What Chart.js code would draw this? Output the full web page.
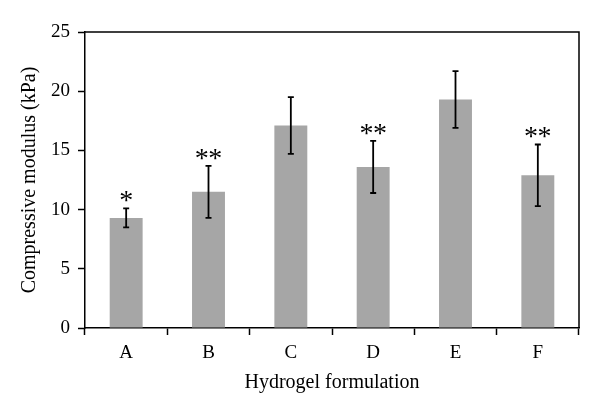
<!DOCTYPE html>
<html>
<head>
<meta charset="utf-8">
<script src="https://cdn.jsdelivr.net/npm/chart.js@4"></script>
<style>
  html, body { margin: 0; padding: 0; background: #fff; }
  #wrap { width: 600px; height: 413px; }
</style>
</head>
<body>
<div id="wrap"><canvas id="modulus"></canvas></div>
<script>
// Values.
const formulations = ["A", "B", "C", "D", "E", "F"];
const modulus = [9.3, 11.5, 17.1, 13.6, 19.3, 12.9];
const modulusSd = [0.8, 2.2, 2.4, 2.2, 2.4, 2.6];
const significance = ["*", "**", "", "**", "", "**"];
const yTicks = [0, 5, 10, 15, 20, 25];

const serif = "'Liberation Serif', 'DejaVu Serif', serif";

// Draws the top/right frame, the error bars and the asterisks.
const errorBars = {
    id: "errorBars",
    afterDatasetsDraw(chart) {
        const {ctx, chartArea} = chart;
        const yScale = chart.scales.y;
        const meta = chart.getDatasetMeta(0);
        ctx.save();

        ctx.strokeStyle = "#000";
        ctx.lineWidth = 1.5;
        ctx.beginPath();
        ctx.moveTo(chartArea.left, chartArea.top);
        ctx.lineTo(chartArea.right, chartArea.top);
        ctx.lineTo(chartArea.right, chartArea.bottom);
        ctx.stroke();

        ctx.lineWidth = 1.8;
        for (let i in modulus) {
            const x = meta.data[i].x;
            const hi = yScale.getPixelForValue(modulus[i] + modulusSd[i]);
            const lo = yScale.getPixelForValue(modulus[i] - modulusSd[i]);
            ctx.beginPath();
            ctx.moveTo(x, hi);
            ctx.lineTo(x, lo);
            ctx.moveTo(x - 3, hi);
            ctx.lineTo(x + 3, hi);
            ctx.moveTo(x - 3, lo);
            ctx.lineTo(x + 3, lo);
            ctx.stroke();

            // One asterisk per character, spaced a little apart.
            const stars = significance[i];
            ctx.fillStyle = "#000";
            ctx.font = "28px " + serif;
            ctx.textAlign = "center";
            ctx.textBaseline = "alphabetic";
            for (let s = 0; s < stars.length; s++) {
                const sx = x + (s - (stars.length - 1) / 2) * 13.5;
                ctx.fillText(stars[s], sx, hi + 1);
            }
        }
        ctx.restore();
    }
};

new Chart(document.getElementById("modulus"), {
    type: "bar",
    data: {
        labels: formulations,
        datasets: [{
            data: modulus,
            backgroundColor: "#a6a6a6",
            borderWidth: 0,
            barPercentage: 0.4,
            categoryPercentage: 1,
        }]
    },
    options: {
        responsive: true,
        maintainAspectRatio: false,
        animation: false,
        layout: {
            padding: {top: 32, right: 21, left: 0, bottom: 0}
        },
        plugins: {
            legend: {display: false},
            tooltip: {enabled: false},
        },
        scales: {
            x: {
                afterFit(scale) { scale.height = 85; },
                grid: {
                    display: true,
                    offset: true,
                    drawOnChartArea: false,
                    drawTicks: true,
                    tickLength: 7,
                    tickWidth: 1.5,
                    color: "#000",
                },
                border: {display: true, color: "#000", width: 1.5},
                ticks: {
                    color: "#000",
                    padding: 7,
                    font: {family: serif, size: 19},
                },
                title: {
                    display: true,
                    text: "Hydrogel formulation",
                    color: "#000",
                    font: {family: serif, size: 20},
                    padding: {top: 0, bottom: 18},
                },
            },
            y: {
                min: 0,
                max: 25,
                afterFit(scale) { scale.width = 85; },
                afterBuildTicks(scale) {
                    scale.ticks = yTicks.map(v => ({value: v}));
                },
                grid: {
                    display: true,
                    drawOnChartArea: false,
                    drawTicks: true,
                    tickLength: 7,
                    tickWidth: 1.5,
                    color: "#000",
                },
                border: {display: true, color: "#000", width: 1.5},
                ticks: {
                    color: "#000",
                    padding: 8,
                    font: {family: serif, size: 19},
                },
                title: {
                    display: true,
                    text: "Compressive modulus (kPa)",
                    color: "#000",
                    font: {family: serif, size: 20},
                    padding: {top: 18, bottom: 0},
                },
            }
        }
    },
    plugins: [errorBars],
});
</script>
</body>
</html>
